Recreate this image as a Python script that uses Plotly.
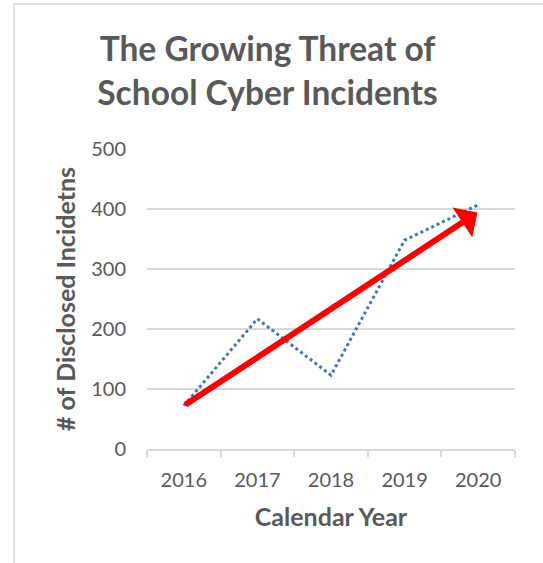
import plotly.graph_objects as go

years = ["2016", "2017", "2018", "2019", "2020"]
incidents = [72, 217, 123, 348, 407]
trend_start = [0, 72]    # (category index, value) of arrow tail
trend_end = [3.99, 394]  # (category index, value) of arrow tip
y_ticks = [0, 100, 200, 300, 400, 500]

GRID = "#d9d9d9"
TEXT = "#595959"
FONT = "Lato"

W, H = 543, 563
ML, MR, MT, MB = 147, 28, 149, 114
PW, PH = W - ML - MR, H - MT - MB

fig = go.Figure()
fig.add_trace(go.Scatter(
    x=years, y=incidents, mode="lines",
    line=dict(color="#4472C4", width=3, dash="dot"),
    showlegend=False, hoverinfo="skip",
))

fig.add_annotation(
    x=trend_end[0], y=trend_end[1], ax=trend_start[0], ay=trend_start[1],
    xref="x", yref="y", axref="x", ayref="y",
    showarrow=True, arrowhead=1, arrowsize=1, arrowwidth=6,
    arrowcolor="#FF0000", text="",
)

# chart-area border (Excel style)
fig.add_shape(
    type="rect", xref="paper", yref="paper",
    x0=(14 - ML) / PW, x1=2, y0=-2, y1=(H - MB - 4) / PH,
    line=dict(color=GRID, width=1.5), fillcolor="rgba(0,0,0,0)", layer="below",
)

fig.update_layout(
    width=W, height=H,
    margin=dict(l=ML, r=MR, t=MT, b=MB),
    paper_bgcolor="white", plot_bgcolor="white",
    font=dict(family=FONT, color=TEXT),
    title=dict(
        text="<b>The Growing Threat of<br>School Cyber Incidents</b>",
        xref="container", yref="container",
        x=267.5 / W, xanchor="center",
        y=1 - 61 / H, yanchor="top",
        font=dict(family=FONT, size=33.5, color=TEXT),
    ),
    xaxis=dict(
        type="category", range=[-0.5, 4.5],
        showgrid=False, showline=True, linecolor=GRID, linewidth=1.5,
        ticks="outside", tickson="boundaries", ticklen=6, tickcolor=GRID, tickwidth=1.5,
        ticklabelstandoff=12,
        tickfont=dict(family=FONT, size=20, color=TEXT),
        title=dict(text="<b>Calendar Year</b>", standoff=19,
                   font=dict(family=FONT, size=25, color=TEXT)),
        fixedrange=True,
    ),
    yaxis=dict(
        range=[0, 500], tickvals=y_ticks,
        showgrid=True, gridcolor=GRID, gridwidth=1.5,
        showline=False, zeroline=False,
        ticks="", ticklabelstandoff=20,
        tickfont=dict(family=FONT, size=20, color=TEXT),
        title=dict(text="<b># of Disclosed Incidetns</b>", standoff=8,
                   font=dict(family=FONT, size=25, color=TEXT)),
        fixedrange=True,
    ),
)

fig.write_html("out.html")
